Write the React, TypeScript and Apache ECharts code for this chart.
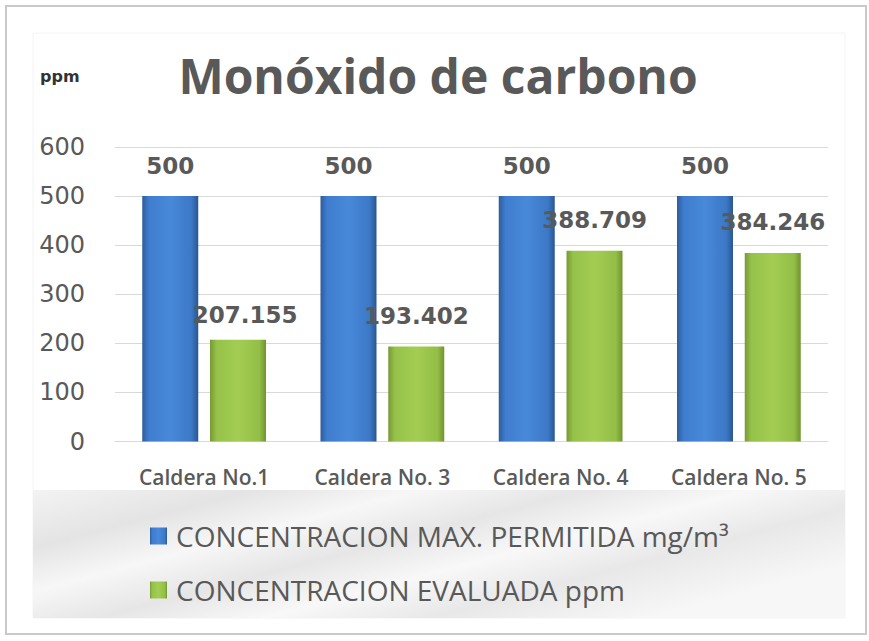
import React, { useEffect, useRef } from "react";
import * as echarts from "echarts";

const titleText = "Monóxido de carbono";
const unitLabel = "ppm";
const categories = ["Caldera No.1", "Caldera No. 3", "Caldera No. 4", "Caldera No. 5"];
const maxPermitida = [500, 500, 500, 500];
const evaluada = [207.155, 193.402, 388.709, 384.246];
const seriesNames = ["CONCENTRACION MAX. PERMITIDA mg/m³", "CONCENTRACION EVALUADA ppm"];
const yMin = 0;
const yMax = 600;
const yInterval = 100;

const TEXT = "#595959";

export default function App() {
  const ref = useRef<HTMLDivElement>(null);
  useEffect(() => {
    if (!ref.current) return;
    const chart = echarts.init(ref.current, null, { renderer: "svg" });
    const blue = new echarts.graphic.LinearGradient(0, 0, 1, 0, [
      { offset: 0, color: "#2d5c9c" },
      { offset: 0.12, color: "#3f7dcf" },
      { offset: 0.5, color: "#4889d9" },
      { offset: 0.88, color: "#3c78c6" },
      { offset: 1, color: "#2a5690" },
    ]);
    const green = new echarts.graphic.LinearGradient(0, 0, 1, 0, [
      { offset: 0, color: "#779a33" },
      { offset: 0.12, color: "#96c24a" },
      { offset: 0.5, color: "#a3cd52" },
      { offset: 0.88, color: "#93be47" },
      { offset: 1, color: "#71942f" },
    ]);
    const labelBase = {
      show: true,
      position: "top" as const,
      distance: 19,
      fontFamily: "DejaVu Sans",
      fontWeight: "bold" as const,
      fontSize: 23,
      color: TEXT,
    };
    chart.setOption({
      animation: false,
      backgroundColor: "#ffffff",
      graphic: [
        {
          type: "rect",
          shape: { x: 6, y: 6, width: 860, height: 628 },
          style: { fill: "#ffffff", stroke: "#c9c9c9", lineWidth: 2 },
          z: -10,
        },
        {
          type: "rect",
          shape: { x: 33, y: 33, width: 812, height: 585 },
          style: { fill: "#ffffff", stroke: "#f4f4f4", lineWidth: 1 },
          z: -9,
        },
        {
          type: "rect",
          shape: { x: 33, y: 490, width: 812, height: 128 },
          style: {
            fill: new echarts.graphic.LinearGradient(0, 0, 1, 0.6, [
              { offset: 0, color: "#f3f3f3" },
              { offset: 0.2, color: "#e4e4e4" },
              { offset: 0.35, color: "#f7f7f7" },
              { offset: 0.5, color: "#e6e6e6" },
              { offset: 0.65, color: "#f8f8f8" },
              { offset: 0.8, color: "#e8e8e8" },
              { offset: 1, color: "#f7f7f7" },
            ]),
          },
          z: -8,
        },
        {
          type: "text",
          x: 438,
          y: 75,
          style: {
            text: titleText,
            align: "center",
            verticalAlign: "middle",
            fontFamily: "Open Sans",
            fontWeight: "bold",
            fontSize: 48,
            fill: TEXT,
          },
        },
        {
          type: "text",
          x: 40,
          y: 76,
          style: {
            text: unitLabel,
            align: "left",
            verticalAlign: "middle",
            fontFamily: "DejaVu Sans",
            fontWeight: "bold",
            fontSize: 16,
            fill: "#333333",
          },
        },
      ],
      grid: { left: 115, right: 41, top: 147, bottom: 199.5, containLabel: false },
      legend: {
        orient: "vertical",
        left: 145,
        top: 517,
        itemWidth: 17,
        itemHeight: 17,
        itemGap: 26,
        icon: "rect",
        data: seriesNames,
        textStyle: {
          fontFamily: "Open Sans",
          fontSize: 28,
          color: TEXT,
          padding: [0, 0, 0, 4],
        },
      },
      xAxis: {
        type: "category",
        data: categories,
        axisLine: { show: true, lineStyle: { color: "#d9d9d9", width: 1 } },
        axisTick: { show: false },
        axisLabel: {
          fontFamily: "Open Sans",
          fontSize: 21,
          fontWeight: 600,
          color: TEXT,
          margin: 25,
        },
      },
      yAxis: {
        type: "value",
        min: yMin,
        max: yMax,
        interval: yInterval,
        axisLine: { show: false },
        axisTick: { show: false },
        splitLine: { lineStyle: { color: "#d9d9d9", width: 1 } },
        axisLabel: {
          fontFamily: "DejaVu Sans",
          fontSize: 24,
          color: TEXT,
          margin: 30,
        },
      },
      series: [
        {
          name: seriesNames[0],
          type: "bar",
          data: maxPermitida,
          barWidth: 56,
          barGap: "21%",
          itemStyle: { color: blue },
          label: labelBase,
        },
        {
          name: seriesNames[1],
          type: "bar",
          data: evaluada.map((v, i) =>
            i === 0 ? { value: v, label: { offset: [7, 6] } } : v
          ),
          barWidth: 56,
          itemStyle: { color: green },
          label: labelBase,
        },
      ],
    });
    return () => chart.dispose();
  }, []);
  return (
    <div
      ref={ref}
      style={{ position: "fixed", left: 0, top: 0, width: 869, height: 641 }}
    />
  );
}
